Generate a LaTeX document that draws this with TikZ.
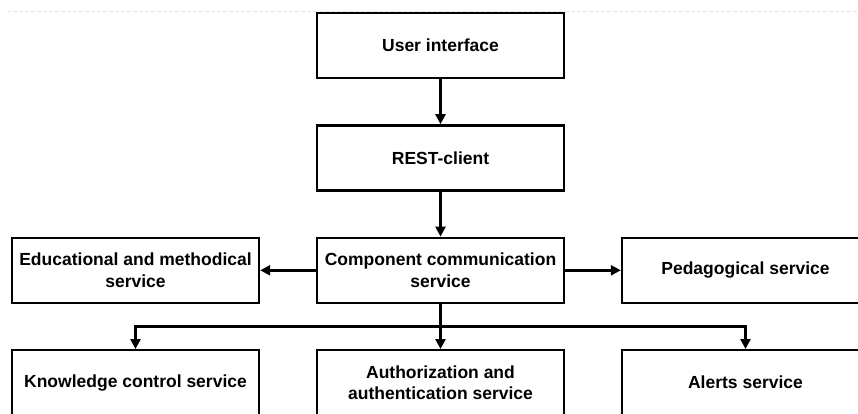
\documentclass[tikz,border=0pt]{standalone}
\usepackage{fontspec}
\setmainfont{Liberation Sans}
\usetikzlibrary{arrows.meta,positioning,calc}

\begin{document}
\begin{tikzpicture}[x=1pt,y=-1pt,->,>={Triangle[length=10pt,width=10pt]},
      line width=2.4pt,node distance=45pt and 55.6pt,
      box/.style={draw,rectangle,fill=white,minimum width=247pt,minimum height=65pt,
        inner sep=0pt,align=center,font=\fontsize{17.5}{21.7}\selectfont\bfseries}]
    \clip (0,0) rectangle (858,414);
    \draw[-,black!10,line width=1pt,dash pattern=on 4pt off 2pt] (7,11.5) -- (858,11.5);
    \node[box] (ui) at (440.5,45.5) {User interface};
    \node[box] (rest) [below=of ui] {REST-client};
    \node[box] (comm) [below=of rest] {Component communication\\service};
    \node[box] (edu) [left=of comm] {Educational and methodical\\service};
    \node[box] (ped) [right=of comm] {Pedagogical service};
    \node[box] (auth) [below=of comm] {Authorization and\\authentication service};
    \node[box] (know) [left=of auth] {Knowledge control service};
    \node[box] (alert) [right=of auth] {Alerts service};
    \coordinate (split) at ($(comm.south)!0.5!(auth.north)$);
    \path (ui) edge (rest)
    (rest) edge (comm)
    (comm) edge (edu)
    edge (ped)
    edge (auth);
    \draw (split) -| (know);
    \draw (split) -| (alert);
  \end{tikzpicture}
\end{document}
